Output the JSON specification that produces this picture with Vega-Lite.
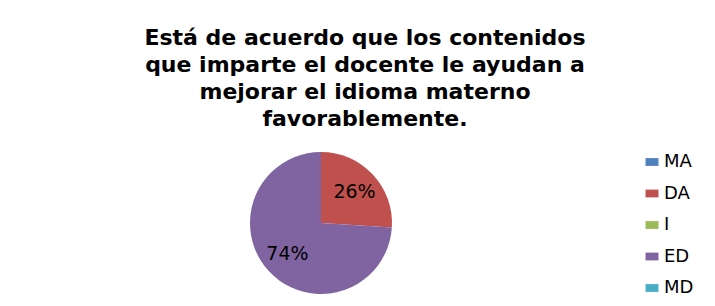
{
  "$schema": "https://vega.github.io/schema/vega-lite/v6.json",
  "width": 142,
  "height": 142,
  "autosize": "none",
  "padding": {"left": 250, "top": 152, "right": 323, "bottom": 12},
  "background": "white",
  "view": {"stroke": null},
  "title": {
    "text": ["Está de acuerdo que los contenidos", "que imparte el docente le ayudan a", "mejorar el idioma materno", "favorablemente."],
    "font": "DejaVu Sans",
    "fontSize": 22,
    "fontWeight": "bold",
    "color": "#000000",
    "lineHeight": 27,
    "anchor": "middle",
    "dx": 44,
    "offset": 21
  },
  "data": {
    "values": [
      {"cat": "MA", "share": 0, "n": 1},
      {"cat": "DA", "share": 0.26, "n": 2},
      {"cat": "I", "share": 0, "n": 3},
      {"cat": "ED", "share": 0.74, "n": 4},
      {"cat": "MD", "share": 0, "n": 5}
    ]
  },
  "encoding": {
    "theta": {"field": "share", "type": "quantitative", "stack": true},
    "order": {"field": "n", "type": "quantitative"}
  },
  "layer": [
    {
      "mark": {"type": "arc", "outerRadius": 71, "stroke": null},
      "encoding": {
        "color": {
          "field": "cat",
          "type": "nominal",
          "scale": {
            "domain": ["MA", "DA", "I", "ED", "MD"],
            "range": ["#4F81BD", "#C0504D", "#9BBB59", "#8064A2", "#4BACC6"]
          },
          "legend": {
            "title": null,
            "orient": "none",
            "legendX": 393,
            "legendY": 1,
            "symbolType": "M-1,-0.6H1V0.6H-1Z",
            "symbolSize": 169,
            "symbolStrokeWidth": 0,
            "labelFont": "DejaVu Sans",
            "labelFontSize": 18,
            "labelColor": "#000000",
            "labelOffset": 3,
            "rowPadding": 13.5
          }
        }
      }
    },
    {
      "transform": [{"filter": "datum.share > 0"}],
      "mark": {"type": "text", "radius": 46, "font": "DejaVu Sans", "fontSize": 19, "color": "#000000"},
      "encoding": {
        "text": {"field": "share", "type": "quantitative", "format": ".0%"}
      }
    }
  ]
}
